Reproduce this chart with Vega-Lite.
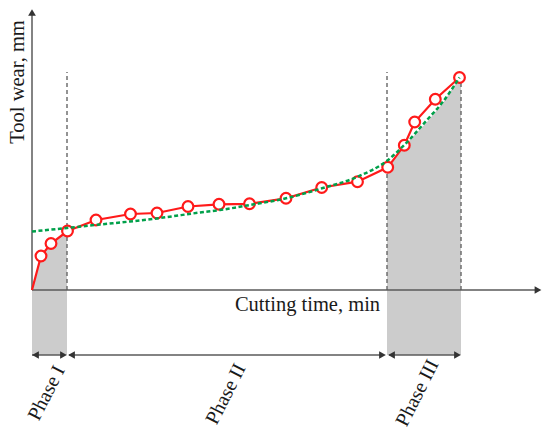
{
  "$schema": "https://vega.github.io/schema/vega-lite/v6.json",
  "width": 550,
  "height": 438,
  "padding": 0,
  "autosize": {"type": "fit", "contains": "padding"},
  "config": {"view": {"stroke": null}},
  "datasets": {
    "wear": [
      {"t": 0, "w": 0, "marker": false},
      {"t": 9, "w": 34, "marker": true},
      {"t": 19, "w": 46.5, "marker": true},
      {"t": 35.5, "w": 59, "marker": true},
      {"t": 64, "w": 70, "marker": true},
      {"t": 98.5, "w": 76, "marker": true},
      {"t": 125, "w": 77, "marker": true},
      {"t": 156, "w": 83.5, "marker": true},
      {"t": 187, "w": 85.7, "marker": true},
      {"t": 217.5, "w": 86.2, "marker": true},
      {"t": 254, "w": 91.7, "marker": true},
      {"t": 289.7, "w": 102.5, "marker": true},
      {"t": 325.5, "w": 108.3, "marker": true},
      {"t": 355.7, "w": 122.7, "marker": true},
      {"t": 372.3, "w": 144.7, "marker": true},
      {"t": 382.7, "w": 168, "marker": true},
      {"t": 403.3, "w": 190.7, "marker": true},
      {"t": 427.5, "w": 212.5, "marker": true}
    ],
    "fit": [
      {"t": 0, "w": 58.5},
      {"t": 35, "w": 62},
      {"t": 68, "w": 65.5},
      {"t": 98, "w": 68.5},
      {"t": 128, "w": 72},
      {"t": 168, "w": 77.5},
      {"t": 188, "w": 80},
      {"t": 218, "w": 85},
      {"t": 254, "w": 91.7},
      {"t": 290, "w": 101.7},
      {"t": 325, "w": 113},
      {"t": 356, "w": 130},
      {"t": 372, "w": 144.7},
      {"t": 395, "w": 170},
      {"t": 411, "w": 188.3},
      {"t": 427.5, "w": 212.5}
    ],
    "shade": [
      {"t": 0, "w": 0, "w0": -65, "ph": "I"},
      {"t": 9, "w": 34, "w0": -65, "ph": "I"},
      {"t": 19, "w": 46.5, "w0": -65, "ph": "I"},
      {"t": 35, "w": 59, "w0": -65, "ph": "I"},
      {"t": 355, "w": 122.7, "w0": -65, "ph": "III"},
      {"t": 372.3, "w": 144, "w0": -65, "ph": "III"},
      {"t": 395, "w": 168, "w0": -65, "ph": "III"},
      {"t": 411, "w": 187, "w0": -65, "ph": "III"},
      {"t": 427.5, "w": 212.5, "w0": -65, "ph": "III"},
      {"t": 429, "w": 212.5, "w0": -65, "ph": "III"}
    ],
    "segments": [
      {"t1": 0, "t2": 506, "w1": 0, "w2": 0, "kind": "axis"},
      {"t1": 0, "t2": 0, "w1": 0, "w2": 278, "kind": "axis"},
      {"t1": 0, "t2": 33, "w1": -65, "w2": -65, "kind": "span"},
      {"t1": 37, "t2": 352, "w1": -65, "w2": -65, "kind": "span"},
      {"t1": 357, "t2": 427, "w1": -65, "w2": -65, "kind": "span"},
      {"t1": 35, "t2": 35, "w1": 0, "w2": 218, "kind": "guide"},
      {"t1": 355, "t2": 355, "w1": 0, "w2": 218, "kind": "guide"},
      {"t1": 429, "t2": 429, "w1": 0, "w2": 218, "kind": "guide"}
    ],
    "heads": [
      {"t": 506, "w": 0, "dir": "triangle-right"},
      {"t": 0, "w": 277.5, "dir": "triangle-up"},
      {"t": 3.5, "w": -65, "dir": "triangle-left"},
      {"t": 31.5, "w": -65, "dir": "triangle-right"},
      {"t": 39.5, "w": -65, "dir": "triangle-left"},
      {"t": 350.5, "w": -65, "dir": "triangle-right"},
      {"t": 359.5, "w": -65, "dir": "triangle-left"},
      {"t": 425.5, "w": -65, "dir": "triangle-right"}
    ],
    "labels": [
      {"t": 275.5, "w": -21, "label": "Cutting time, min", "role": "x"},
      {"t": -8.5, "w": 208, "label": "Tool wear, mm", "role": "y"},
      {"t": 14.7, "w": -103, "label": "Phase I", "role": "phase"},
      {"t": 194, "w": -104, "label": "Phase II", "role": "phase"},
      {"t": 385.5, "w": -103, "label": "Phase III", "role": "phase"}
    ]
  },
  "encoding": {
    "x": {"field": "t", "type": "quantitative", "scale": {"domain": [-32, 518], "nice": false, "zero": false}, "axis": null},
    "y": {"field": "w", "type": "quantitative", "scale": {"domain": [-148, 290], "nice": false, "zero": false}, "axis": null}
  },
  "layer": [
    {
      "data": {"name": "shade"},
      "mark": {"type": "area", "color": "#cccccc", "opacity": 1},
      "encoding": {
        "y": {"field": "w", "type": "quantitative", "stack": null},
        "y2": {"field": "w0"},
        "detail": {"field": "ph", "type": "nominal"}
      }
    },
    {
      "data": {"name": "segments"},
      "transform": [{"filter": "datum.kind === 'guide'"}],
      "mark": {"type": "rule", "color": "#666666", "strokeWidth": 1.4, "strokeDash": [4, 3]},
      "encoding": {
        "x": {"field": "t1", "type": "quantitative"},
        "x2": {"field": "t2"},
        "y": {"field": "w1", "type": "quantitative"},
        "y2": {"field": "w2"}
      }
    },
    {
      "data": {"name": "segments"},
      "transform": [{"filter": "datum.kind !== 'guide'"}],
      "mark": {"type": "rule", "color": "#5a5a5a", "strokeWidth": 1.5},
      "encoding": {
        "x": {"field": "t1", "type": "quantitative"},
        "x2": {"field": "t2"},
        "y": {"field": "w1", "type": "quantitative"},
        "y2": {"field": "w2"}
      }
    },
    {
      "data": {"name": "heads"},
      "mark": {"type": "point", "filled": true, "color": "#333333", "size": 60, "opacity": 1},
      "encoding": {
        "shape": {"field": "dir", "type": "nominal", "scale": null}
      }
    },
    {
      "data": {"name": "wear"},
      "mark": {"type": "line", "color": "#ff1a1a", "strokeWidth": 2.2},
      "encoding": {}
    },
    {
      "data": {"name": "wear"},
      "transform": [{"filter": "datum.marker"}],
      "mark": {"type": "point", "filled": true, "fill": "#ffffff", "stroke": "#ff1a1a", "strokeWidth": 2.2, "size": 115, "opacity": 1}
    },
    {
      "data": {"name": "fit"},
      "mark": {"type": "line", "color": "#00a04a", "strokeWidth": 2.5, "strokeDash": [4, 2.5], "interpolate": "monotone"},
      "encoding": {}
    },
    {
      "data": {"name": "labels"},
      "transform": [{"filter": "datum.role === 'x'"}],
      "mark": {"type": "text", "font": "Liberation Serif", "fontSize": 20.5, "color": "#1a1a1a", "align": "center", "baseline": "alphabetic"},
      "encoding": {"text": {"field": "label"}}
    },
    {
      "data": {"name": "labels"},
      "transform": [{"filter": "datum.role === 'y'"}],
      "mark": {"type": "text", "font": "Liberation Serif", "fontSize": 20.5, "color": "#1a1a1a", "align": "center", "baseline": "alphabetic", "angle": 270},
      "encoding": {"text": {"field": "label"}}
    },
    {
      "data": {"name": "labels"},
      "transform": [{"filter": "datum.role === 'phase'"}],
      "mark": {"type": "text", "font": "Liberation Serif", "fontSize": 20, "color": "#1a1a1a", "align": "center", "baseline": "middle", "angle": 297},
      "encoding": {"text": {"field": "label"}}
    }
  ]
}
